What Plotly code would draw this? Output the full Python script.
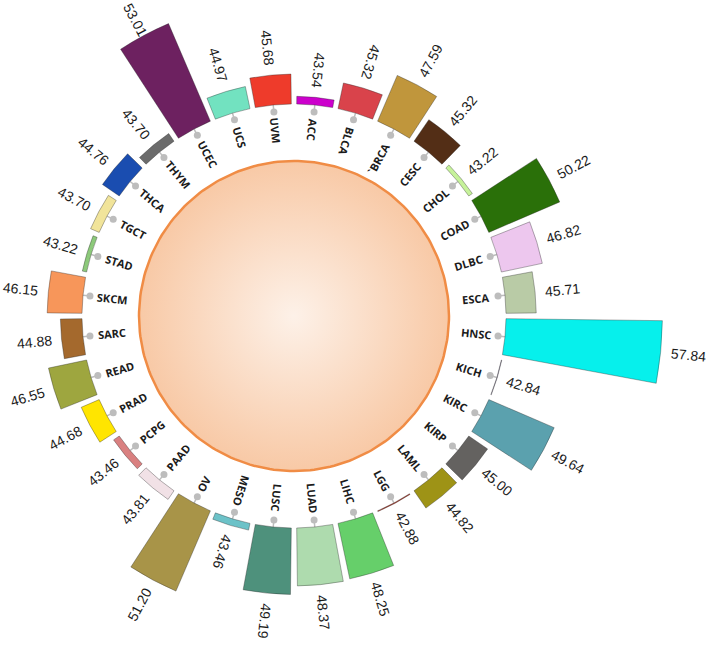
import numpy as np
import plotly.graph_objects as go

# --- data ---
cancers = ["ACC", "BLCA", "`BRCA", "CESC", "CHOL", "COAD", "DLBC", "ESCA",
           "HNSC", "KICH", "KIRC", "KIRP", "LAML", "LGG", "LIHC", "LUAD",
           "LUSC", "MESO", "OV", "PAAD", "PCPG", "PRAD", "READ", "SARC",
           "SKCM", "STAD", "TGCT", "THCA", "THYM", "UCEC", "UCS", "UVM"]
values = [43.54, 45.32, 47.59, 45.32, 43.22, 50.22, 46.82, 45.71,
          57.84, 42.84, 49.64, 45.00, 44.82, 42.88, 48.25, 48.37,
          49.19, 43.46, 51.20, 43.81, 43.46, 44.68, 46.55, 44.88,
          46.15, 43.22, 43.70, 44.76, 43.70, 53.01, 44.97, 45.68]
colors = ["#CC00CC", "#D9434B", "#C0963C", "#532E16", "#C6F29A", "#2A7009", "#EDC7EE", "#B9CBA6",
          "#06F0EC", "#9C8FB3", "#5BA1AE", "#646260", "#9E9316", "#B83A2A", "#66CF6A", "#AEDBAE",
          "#4E917C", "#6CC2C8", "#A89448", "#F1E1E6", "#D98080", "#FFE500", "#9EA63F", "#A4692D",
          "#F7965A", "#8CC97A", "#F1E49A", "#1A4DB0", "#6B6B6B", "#6D2160", "#72E2C0", "#EE3B2B"]

# --- geometry ---
W, H = 709, 646
CX, CY = 294, 316          # chart centre, px from top-left
k = 10.4                   # px per unit
base = 42.8                # bar start value
base_px = 212              # bar start radius in px
r0 = base - base_px / k    # radial value at the centre

n = len(cancers)
step = 360 / n
theta = [i * step for i in range(n)]
rotation = 90 - step / 2

angular = dict(thetaunit="degrees", direction="clockwise", rotation=rotation, visible=False)


def sector_bbox(a0, a1):
    # same bounding box of a wedge that plotly uses to fit a polar sector
    xs = [0, np.cos(np.radians(a0)), np.cos(np.radians(a1))]
    ys = [0, np.sin(np.radians(a0)), np.sin(np.radians(a1))]
    for q in range(-360, 721, 90):
        if a0 <= q <= a1:
            xs.append(np.cos(np.radians(q)))
            ys.append(np.sin(np.radians(q)))
    return min(xs), min(ys), max(xs), max(ys)


def polar_at(R, sector=None):
    # polar subplot centred on (CX, CY) with radius R px and the same px/unit scale
    if sector is None:
        bx0, by0, bx1, by1 = -1, -1, 1, 1
    else:
        bx0, by0, bx1, by1 = sector_bbox(*sector)
    dom = dict(x=[(CX + R * bx0) / W, (CX + R * bx1) / W],
               y=[(H - CY + R * by0) / H, (H - CY + R * by1) / H])
    p = dict(domain=dom, bgcolor="rgba(0,0,0,0)", hole=0,
             radialaxis=dict(range=[r0, r0 + R / k], visible=False),
             angularaxis=angular)
    if sector is not None:
        p["sector"] = list(sector)
    return p


fig = go.Figure()
layout_polars = {}

# centre disc with radial gradient (cartesian overlay, 1 unit = 1 px)
t = np.linspace(0, 2 * np.pi, 241)
fig.add_trace(go.Scatter(
    x=155 * np.cos(t), y=155 * np.sin(t), mode="lines", fill="toself",
    fillgradient=dict(type="radial", colorscale=[[0, "#FDF1E8"], [1, "#F8C9A6"]]),
    line=dict(color="#F08C45", width=2.5), hoverinfo="skip", showlegend=False))

# grey lollipop stubs on one full polar subplot
layout_polars["polar"] = polar_at(CX)
dot_r = base - 7 / k
rs, ths = [], []
for th in theta:
    rs += [dot_r, base, None]
    ths += [th, th, None]
fig.add_trace(go.Scatterpolar(r=rs, theta=ths, mode="lines", subplot="polar",
                              line=dict(color="#BDBDBD", width=1.5),
                              hoverinfo="skip", showlegend=False))
fig.add_trace(go.Scatterpolar(r=[dot_r] * n, theta=theta, mode="markers", subplot="polar",
                              marker=dict(size=7, color="#BDBDBD"),
                              hoverinfo="skip", showlegend=False))

# one thin polar sector per bar, so long bars are not cut at the figure's half height
for i, (name, v, col) in enumerate(zip(cancers, values, colors)):
    key = f"polar{i + 2}"
    mid = rotation - theta[i]
    sec = (mid - step / 2, mid + step / 2)
    R = base_px + (v - base) * k + 6
    layout_polars[key] = polar_at(R, sec)
    fig.add_trace(go.Barpolar(
        r=[v - base], base=base, theta=[theta[i]], width=9.8, subplot=key,
        marker=dict(color=col, line=dict(color="rgba(40,40,40,0.45)", width=0.8)),
        hovertemplate=f"{name}: {v:.2f}<extra></extra>", showlegend=False))

# rotated labels
annotations = []
for i, (name, v) in enumerate(zip(cancers, values)):
    phi = step / 2 + i * step
    flip = not (22.5 < phi < 202.5)
    ang = phi + 90 if flip else phi - 90
    while ang > 180:
        ang -= 360
    while ang <= -180:
        ang += 360
    s, c = np.sin(np.radians(phi)), np.cos(np.radians(phi))

    lab_len = 7.6 * len(name)
    rl = 198 - lab_len / 2
    annotations.append(dict(
        x=rl * s, y=rl * c, xref="x", yref="y", text=name, showarrow=False,
        textangle=ang, xanchor="center", yanchor="middle",
        font=dict(family="Open Sans", size=11, color="#1b1b1b", weight=700)))

    bar_end = base_px + (v - base) * k
    rv = bar_end + 10 + 35 / 2
    # keep the rotated value text inside the top edge
    hh = (35 * abs(np.sin(np.radians(ang))) + 14 * abs(np.cos(np.radians(ang)))) / 2
    if c > 0 and CY - rv * c < hh + 1:
        rv = (CY - hh - 1) / c
    annotations.append(dict(
        x=rv * s, y=rv * c, xref="x", yref="y", text=f"{v:.2f}", showarrow=False,
        textangle=ang, xanchor="center", yanchor="middle",
        font=dict(family="Arial, Liberation Sans", size=14, color="#1b1b1b")))

fig.update_layout(
    width=W, height=H, margin=dict(l=0, r=0, t=0, b=0),
    paper_bgcolor="white", plot_bgcolor="rgba(0,0,0,0)",
    xaxis=dict(domain=[0, 1], range=[-CX, W - CX], visible=False, fixedrange=True),
    yaxis=dict(domain=[0, 1], range=[CY - H, CY], visible=False, fixedrange=True),
    annotations=annotations,
    **layout_polars,
)

# drop the page's default body margin so the figure sits at the window's corner
fig.write_html("out.html", config={"displayModeBar": False},
               post_script="document.body.style.margin='0px';")
